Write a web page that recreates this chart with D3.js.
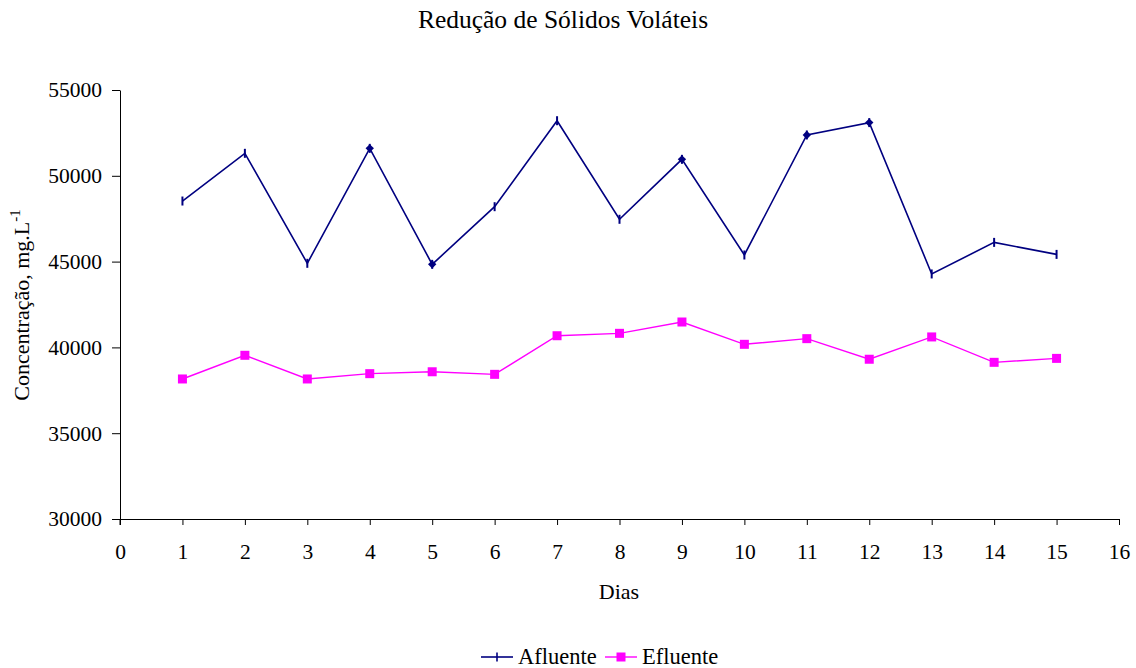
<!DOCTYPE html>
<html>
<head>
<meta charset="utf-8">
<script src="https://cdn.jsdelivr.net/npm/d3@7"></script>
<style>
  body { margin: 0; background: #fff; }
  svg text { font-family: "Liberation Serif", "Times New Roman", serif; fill: #000; }
</style>
</head>
<body>
<script>
// dados
var dias = [1, 2, 3, 4, 5, 6, 7, 8, 9, 10, 11, 12, 13, 14, 15];
var afluente = [48530, 51310, 44900, 51600, 44840, 48200, 53210, 47465, 50960, 45385, 52380, 53100, 44280, 46120, 45420];
var efluente = [38160, 39540, 38160, 38470, 38580, 38430, 40680, 40820, 41480, 40180, 40510, 39310, 40610, 39130, 39360];
var diasLosango = [4, 5, 9, 11, 12]; // pontos do afluente desenhados como losango
var ticksX = d3.range(0, 17);
var ticksY = [30000, 35000, 40000, 45000, 50000, 55000];

var svgW = 1136, svgH = 668;
var x0 = 120, x1 = 1119, y0 = 519, y1 = 90;
var corAfl = "#000080", corEfl = "#ff00ff";

var svg = d3.select("body").append("svg")
            .attr("width", svgW)
            .attr("height", svgH);

var xScale = d3.scaleLinear().domain([0, 16]).range([x0, x1]);
var yScale = d3.scaleLinear().domain([30000, 55000]).range([y0, y1]);

// eixos
var xAxis = d3.axisBottom(xScale).tickValues(ticksX).tickFormat(d3.format("d"))
              .tickSizeOuter(0).tickSizeInner(6);
var yAxis = d3.axisLeft(yScale).tickValues(ticksY).tickFormat(d3.format("d"))
              .tickSizeOuter(0).tickSizeInner(8).tickPadding(10);

var gx = svg.append("g").attr("transform", "translate(0," + y0 + ")").call(xAxis);
var gy = svg.append("g").attr("transform", "translate(" + x0 + ",0)").call(yAxis);

[gx, gy].forEach(function (g) {
  g.attr("font-family", null).attr("font-size", null);
  g.select(".domain").attr("stroke", "#000").attr("stroke-width", 1);
  g.selectAll(".tick line").attr("stroke", "#000");
  g.selectAll(".tick text").style("font-family", "'Liberation Serif', serif").style("font-size", "21.5px");
});
gx.selectAll(".tick text").attr("y", 40).attr("dy", 0);
// linha do eixo y desce um pouco abaixo do eixo x
gy.append("line").attr("x1", 0).attr("x2", 0).attr("y1", y0).attr("y2", y0 + 6).attr("stroke", "#000");

// titulos
svg.append("text").attr("x", 563).attr("y", 28).attr("text-anchor", "middle")
   .attr("font-size", "25.5px").text("Redução de Sólidos Voláteis");
svg.append("text").attr("x", 619).attr("y", 599).attr("text-anchor", "middle")
   .attr("font-size", "22px").text("Dias");
var yl = svg.append("text").attr("transform", "translate(29,305) rotate(-90)")
   .attr("text-anchor", "middle").attr("font-size", "22px");
yl.append("tspan").text("Concentração, mg.L");
yl.append("tspan").attr("dy", -9).attr("font-size", "15px").text("-1");

// linhas
var linha = d3.line()
  .x(function (d, i) { return xScale(dias[i]); })
  .y(function (d) { return yScale(d); });

svg.append("path").datum(afluente).attr("d", linha)
   .attr("fill", "none").attr("stroke", corAfl).attr("stroke-width", 1.6);
svg.append("path").datum(efluente).attr("d", linha)
   .attr("fill", "none").attr("stroke", corEfl).attr("stroke-width", 1.4);

// marcadores afluente
svg.selectAll(".mAfl").data(afluente).enter().append("line")
   .attr("class", "mAfl")
   .attr("x1", function (d, i) { return xScale(dias[i]); })
   .attr("x2", function (d, i) { return xScale(dias[i]); })
   .attr("y1", function (d) { return yScale(d) - 4.5; })
   .attr("y2", function (d) { return yScale(d) + 4.5; })
   .attr("stroke", corAfl).attr("stroke-width", 2);

svg.selectAll(".losango").data(diasLosango).enter().append("path")
   .attr("class", "losango")
   .attr("d", d3.symbol().type(d3.symbolDiamond2).size(45))
   .attr("transform", function (d) { return "translate(" + xScale(d) + "," + yScale(afluente[d - 1]) + ")"; })
   .attr("fill", corAfl);

// marcadores efluente
svg.selectAll(".mEfl").data(efluente).enter().append("rect")
   .attr("class", "mEfl")
   .attr("x", function (d, i) { return xScale(dias[i]) - 4.5; })
   .attr("y", function (d) { return yScale(d) - 4.5; })
   .attr("width", 9).attr("height", 9)
   .attr("fill", corEfl);

// legenda
var leg = svg.append("g").attr("transform", "translate(0,657)");
leg.append("line").attr("x1", 481).attr("x2", 513).attr("y1", 0).attr("y2", 0).attr("stroke", corAfl).attr("stroke-width", 1.6);
leg.append("line").attr("x1", 497).attr("x2", 497).attr("y1", -4.5).attr("y2", 4.5).attr("stroke", corAfl).attr("stroke-width", 1.6);
leg.append("text").attr("x", 518).attr("y", 7).attr("font-size", "22.5px").text("Afluente");
leg.append("line").attr("x1", 605).attr("x2", 637).attr("y1", 0).attr("y2", 0).attr("stroke", corEfl).attr("stroke-width", 1.4);
leg.append("rect").attr("x", 616.5).attr("y", -4.5).attr("width", 9).attr("height", 9).attr("fill", corEfl);
leg.append("text").attr("x", 642).attr("y", 7).attr("font-size", "22.5px").text("Efluente");
</script>
</body>
</html>
